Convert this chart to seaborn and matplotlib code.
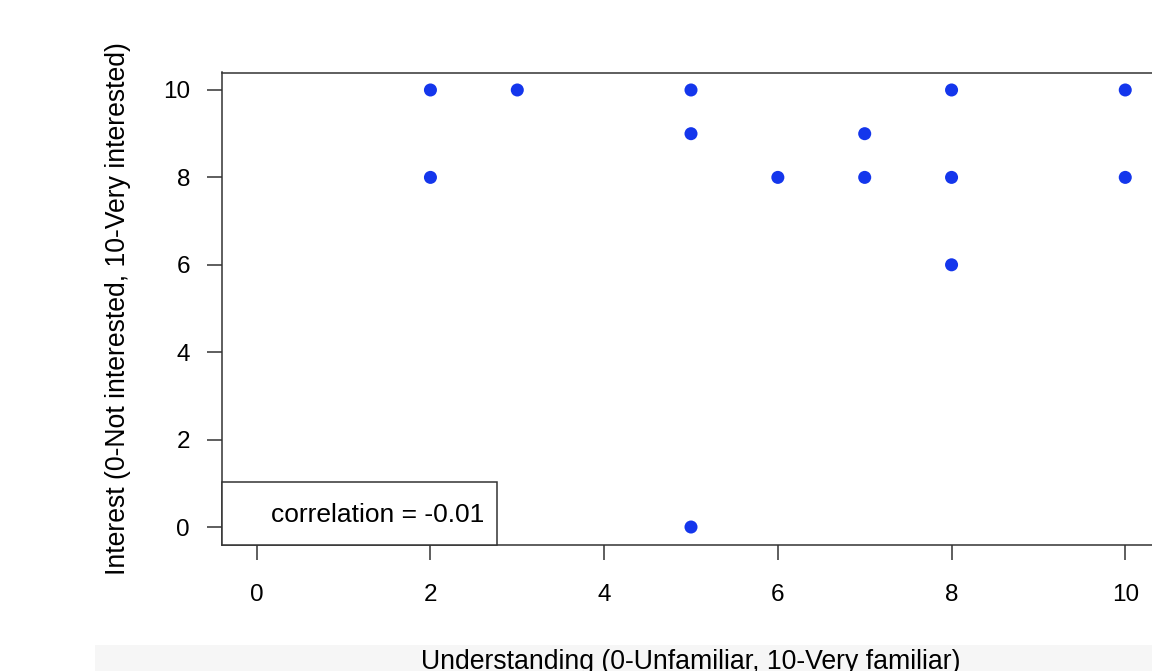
import matplotlib
matplotlib.use('Agg')
import matplotlib.pyplot as plt
import seaborn as sns
import pandas as pd
from matplotlib.lines import Line2D
from matplotlib.patches import Rectangle

# data
understanding = [2, 2, 3, 5, 5, 5, 6, 7, 7, 8, 8, 8, 10, 10]
interest = [10, 8, 10, 10, 9, 0, 8, 9, 8, 10, 8, 6, 10, 8]
x_ticks = [0, 2, 4, 6, 8, 10]
y_ticks = [0, 2, 4, 6, 8, 10]
corr_label = 'correlation = -0.01'

df = pd.DataFrame({'Understanding': understanding, 'Interest': interest})

sns.set_style('ticks')
plt.rcParams['font.family'] = ['Liberation Sans', 'DejaVu Sans']
plt.rcParams['text.color'] = 'black'
plt.rcParams['axes.labelcolor'] = 'black'

fig = plt.figure(figsize=(11.52, 6.71), dpi=100)
# plot box runs a little past the right edge, like the cropped original
ax = fig.add_axes([222 / 1152, 1 - 544.5 / 671, 938 / 1152, 472 / 671])

sns.scatterplot(data=df, x='Understanding', y='Interest', ax=ax,
                color='#1436ec', s=88, edgecolor='none', linewidth=0, zorder=3)

ax.set_xlim(-0.4, 10.4)
ax.set_ylim(-0.4, 10.4)
ax.set_xticks(x_ticks)
ax.set_yticks(y_ticks)
ax.tick_params(axis='both', length=11, width=1.1, color='#333333',
               labelsize=17.5, labelcolor='black')
ax.tick_params(axis='x', pad=17.5)
ax.tick_params(axis='y', pad=12, labelrotation=0)
for sp in ax.spines.values():
    sp.set_visible(True)
    sp.set_color('#333333')
    sp.set_linewidth(1.1)

ax.set_xlabel('Understanding (0-Unfamiliar, 10-Very familiar)', fontsize=19.2)
ax.set_ylabel('Interest (0-Not interested, 10-Very interested)', fontsize=19.2)
ax.xaxis.set_label_coords(0.5, -0.221)
ax.yaxis.set_label_coords(-0.097, 0.5)

leg = ax.legend(handles=[Line2D([], [], linestyle='none')], labels=[corr_label],
                loc='lower left', borderaxespad=0, fontsize=19, fancybox=False,
                framealpha=1, edgecolor='#333333', borderpad=0.5,
                handlelength=0.9, handletextpad=0.45, handleheight=1.72)
leg.get_frame().set_linewidth(1.1)

# faint grey strip at the bottom of the screenshot
fig.patches.append(Rectangle((95 / 1152, 0), 1, 26 / 671, transform=fig.transFigure,
                             facecolor='#f6f6f6', edgecolor='none', zorder=-1))

fig.savefig('out.png', dpi=100)
